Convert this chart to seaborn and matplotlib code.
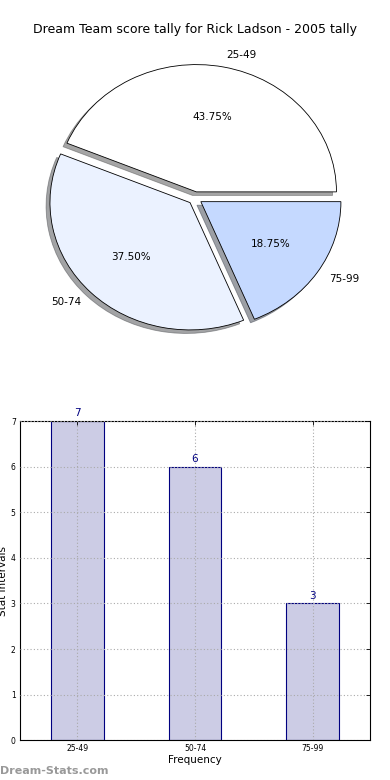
import matplotlib
matplotlib.use("Agg")
import matplotlib.pyplot as plt
import seaborn as sns
import pandas as pd

# score intervals and how often each came up
intervals = ["25-49", "50-74", "75-99"]
counts = [7, 6, 3]
pie_colors = ["#FFFFFF", "#EBF2FF", "#C5D9FF"]
title = "Dream Team score tally for Rick Ladson - 2005 tally"

sns.set_style("white")
plt.rcParams["font.family"] = ["DejaVu Sans"]
plt.rcParams["text.color"] = "black"
plt.rcParams["axes.labelcolor"] = "black"
plt.rcParams["xtick.color"] = "black"
plt.rcParams["ytick.color"] = "black"

fig = plt.figure(figsize=(3.9, 7.8), dpi=100)

# pie on top
ax1 = fig.add_axes([0.051, 0.542, 0.898, 0.408])
ax1.pie(counts, labels=intervals, colors=pie_colors, autopct="%.2f%%",
        explode=[0.05] * len(counts), shadow=True, startangle=0,
        wedgeprops={"edgecolor": "black", "linewidth": 0.6},
        textprops={"fontsize": 7.5, "color": "black"})
ax1.set_aspect("auto")
ax1.set_xlim(-1.25, 1.25)
ax1.set_ylim(-1.25, 1.25)
ax1.set_title(title, fontsize=9, pad=4, color="black")

# bar chart below
ax2 = fig.add_axes([0.051, 0.051, 0.898, 0.409])
df = pd.DataFrame({"interval": intervals, "count": counts})
sns.barplot(data=df, x="interval", y="count", ax=ax2, color="#CCCCE5",
            saturation=1, width=0.45, edgecolor="#000080", linewidth=0.8)
ax2.bar_label(ax2.containers[0], color="#000080", fontsize=7.5, padding=2)
ax2.set_xlim(-0.49, 2.49)
ax2.set_ylim(0, 7)
ax2.set_yticks(range(0, 8))
ax2.grid(True, linestyle=(0, (1, 2)), color="#AAAAAA", linewidth=0.8)
ax2.set_axisbelow(False)
ax2.tick_params(direction="in", labelsize=5.5, top=True, right=True,
                length=3, width=0.6, pad=3)
for s in ax2.spines.values():
    s.set_color("black")
    s.set_linewidth(0.8)
ax2.set_xlabel("Frequency", fontsize=7.5, labelpad=1)
ax2.set_ylabel("Stat Intervals", fontsize=7.5, labelpad=2)

fig.text(0.0, 0.005, "Dream-Stats.com", color="#999999", fontsize=8,
         fontweight="bold", ha="left", va="bottom")

fig.savefig("out.png", dpi=100)
